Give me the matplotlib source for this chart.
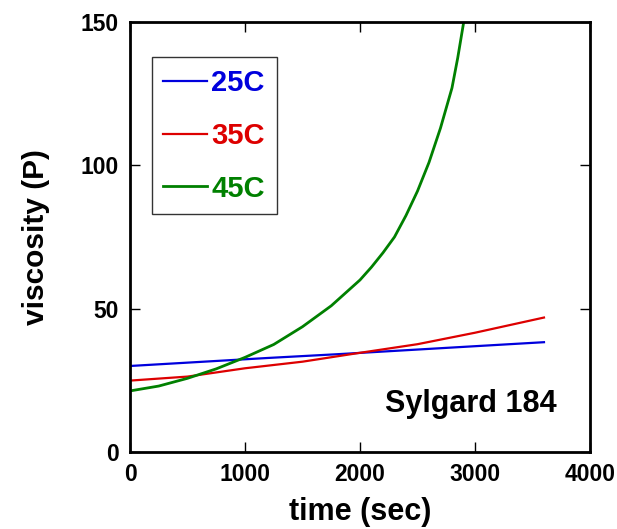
import numpy as np
import matplotlib.pyplot as plt

plt.rcParams['font.family'] = ['Liberation Sans', 'DejaVu Sans']
plt.rcParams['font.weight'] = 'bold'

# viscosity (P) vs time (sec)
t_25 = [0, 600, 1200, 1800, 2400, 3000, 3600]
v_25 = [30.0, 31.4, 32.8, 34.1, 35.5, 36.9, 38.3]

t_35 = [0, 500, 1000, 1500, 2000, 2500, 3000, 3600]
v_35 = [24.9, 26.3, 29.2, 31.5, 34.6, 37.6, 41.6, 46.9]

t_45 = [0, 250, 500, 750, 1000, 1250, 1500, 1750, 2000, 2100, 2200,
        2300, 2400, 2500, 2600, 2700, 2800, 2850, 2900, 2950]
v_45 = [21.3, 23.0, 25.7, 29.0, 33.0, 37.5, 43.7, 51.0, 60.0, 64.5, 69.5,
        75.0, 82.5, 91.0, 101.0, 113.0, 127.0, 137.5, 149.5, 162.0]

fig = plt.figure(figsize=(6.17, 5.29), dpi=100)
ax = fig.add_axes([0.2107, 0.1456, 0.7455, 0.8128])

ax.plot(t_25, v_25, color='#0000dd', lw=1.6, label='25C')
ax.plot(t_35, v_35, color='#dd0000', lw=1.6, label='35C')
ax.plot(t_45, v_45, color='#008000', lw=2.0, label='45C')

ax.set_xlim(0, 4000)
ax.set_ylim(0, 150)
ax.set_xticks([0, 1000, 2000, 3000, 4000])
ax.set_yticks([0, 50, 100, 150])
ax.tick_params(direction='in', length=7, width=1, top=True, right=True,
               labelsize=16.5, pad=8)
for lab in ax.get_xticklabels() + ax.get_yticklabels():
    lab.set_fontweight('bold')
for s in ax.spines.values():
    s.set_linewidth(2)

ax.set_xlabel('time (sec)', fontsize=22, fontweight='bold', labelpad=8)
ax.set_ylabel('viscosity (P)', fontsize=21.5, fontweight='bold', labelpad=22)

leg = ax.legend(loc='upper left', bbox_to_anchor=(0.047, 0.918),
                fontsize=21, frameon=True, fancybox=False, edgecolor='black',
                handlelength=1.5, handletextpad=0.15, labelspacing=0.85,
                borderpad=0.4, borderaxespad=0, labelcolor='linecolor')
leg.get_frame().set_linewidth(1)
for txt in leg.get_texts():
    txt.set_fontweight('bold')

ax.text(0.554, 0.093, 'Sylgard 184', transform=ax.transAxes,
        fontsize=22, fontweight='bold')

fig.savefig('out.png', dpi=100)
